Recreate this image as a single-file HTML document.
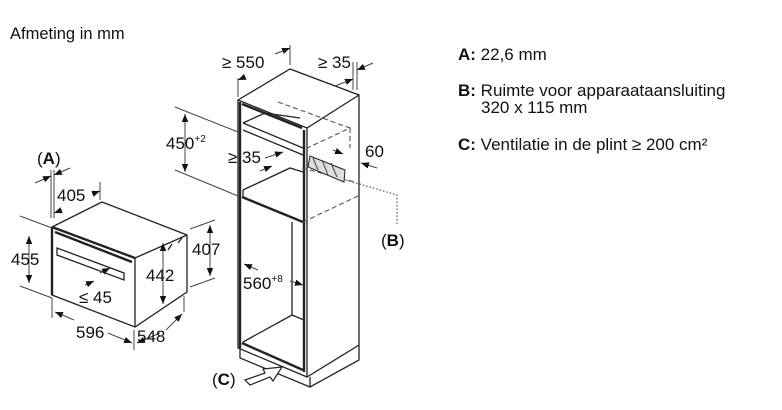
<!DOCTYPE html>
<html><head><meta charset="utf-8"><style>
html,body{margin:0;padding:0;background:#fff;}
svg{display:block;font-family:"Liberation Sans",Arial,sans-serif;}
text{fill:#111;font-size:17px;}
.l{stroke:#222;stroke-width:1.3;fill:none;}
.t{stroke:#222;stroke-width:2.4;fill:none;}
.d{stroke:#555;stroke-width:1.1;fill:none;stroke-dasharray:5,3;}
.e{stroke:#444;stroke-width:1;fill:none;}
</style></head><body>
<svg width="782" height="410" viewBox="0 0 782 410">
<defs><marker id="a" viewBox="0 0 10 10" refX="10" refY="5" markerWidth="8" markerHeight="8" orient="auto-start-reverse"><path d="M0,1 L10,5 L0,9 z" fill="#111"/></marker></defs>
<text x="10" y="39" style="font-size:16.5px">Afmeting in mm</text>
<text x="458" y="60"><tspan font-weight="bold">A:</tspan> 22,6 mm</text>
<text x="458" y="96"><tspan font-weight="bold">B:</tspan> Ruimte voor apparaataansluiting</text>
<text x="481" y="113">320 x 115 mm</text>
<text x="458" y="150"><tspan font-weight="bold">C:</tspan> Ventilatie in de plint ≥ 200 cm²</text>

<!-- OVEN -->
<path class="l" d="M52,227 L102,202 L187,235 L187,292 L135,327 L52,295 Z"/>
<path class="l" d="M135,258 L187,235 M135,258 L135,327"/>
<path class="t" d="M52,227 L135,258 M52,227 L52,295 M55,232 L132,262"/>
<path class="l" d="M57,248 L124,273 L124,280 L57,255 Z"/>
<path class="l" d="M168,250 L172,244 M178,243 L182,238"/>
<!-- oven dims -->
<path class="e" d="M20,216 L52,228 M20,286 L52,298"/>
<line class="e" x1="29" y1="236" x2="29" y2="283" marker-start="url(#a)" marker-end="url(#a)"/>
<text x="11" y="265">455</text>
<path class="e" d="M51,170 L51,218 M54,170 L54,218"/>
<line class="e" x1="35" y1="183" x2="51" y2="176" marker-end="url(#a)"/>
<line class="e" x1="70" y1="168" x2="54" y2="175" marker-end="url(#a)"/>
<text x="37" y="164">(<tspan font-weight="bold">A</tspan>)</text>
<path class="e" d="M100,182 L100,200"/>
<line class="e" x1="62" y1="210" x2="54" y2="213" marker-end="url(#a)"/>
<line class="e" x1="92" y1="194" x2="100" y2="191" marker-end="url(#a)"/>
<text x="57" y="201">405</text>
<text x="146" y="281">442</text>
<line class="e" x1="163" y1="243" x2="163" y2="304" marker-start="url(#a)" marker-end="url(#a)"/>
<path class="e" d="M190,229 L215,220 M190,287 L215,278"/>
<line class="e" x1="210" y1="225" x2="210" y2="276" marker-start="url(#a)" marker-end="url(#a)"/>
<text x="192" y="255">407</text>
<line class="e" x1="100" y1="273" x2="110" y2="268" marker-end="url(#a)"/>
<line class="e" x1="85" y1="285" x2="94" y2="281" marker-end="url(#a)"/>
<text x="79" y="303">≤ 45</text>
<path class="e" d="M52,298 L52,318 M134,330 L134,350 M184,296 L184,312"/>
<line class="e" x1="55" y1="312" x2="74" y2="320" marker-start="url(#a)"/>
<line class="e" x1="108" y1="333" x2="132" y2="343" marker-end="url(#a)"/>
<text x="76" y="338">596</text>
<line class="e" x1="137" y1="343" x2="160" y2="333" marker-start="url(#a)"/>
<line class="e" x1="166" y1="330" x2="182" y2="314" marker-end="url(#a)"/>
<text x="137" y="342">548</text>

<!-- CABINET -->
<path class="l" d="M238,100 L290,69 L359,95 L359,345 L307,377 L238,348 Z"/>
<path class="l" d="M238,100 L307,128 L359,95 M307,128 L307,377"/>
<path class="t" d="M240,102 L240,348 M304,130 L304,372 M242,104 L302,128"/>
<path class="l" d="M243,123 L303,148 M243,130 L303,155 M243,123 L265,113 L300,118"/>
<path class="t" d="M242,197 L303,222"/>
<path class="l" d="M243,190 L290,168 L303,172 M243,190 L243,197"/>
<path class="l" d="M292,222 L292,315 M243,342 L292,315 L304,320"/>
<path class="t" d="M242,343 L303,370"/>
<path class="l" d="M240,348 L240,358 L310,387 L359,360 L359,345 M310,387 L310,377"/>
<path class="d" d="M278,102 L350,128 L303,150 M350,128 L350,148 M302,168 L355,182 M303,222 L358,196"/>
<path d="M310,156 L345,170 L344,182 L308,167 Z" fill="#ddd" stroke="#222" stroke-width="1"/>
<path class="e" d="M313,158 L318,170 M322,160 L328,175 M331,163 L337,177"/>
<path d="M346,180 L397,195 L397,225" fill="none" stroke="#333" stroke-dasharray="1.5,2"/>
<text x="381" y="246">(<tspan font-weight="bold">B</tspan>)</text>
<!-- cabinet dims -->
<path class="e" d="M238,78 L238,97 M290,45 L290,65 M353,62 L353,90 M357,62 L357,90"/>
<line class="e" x1="245" y1="77" x2="238" y2="80" marker-end="url(#a)"/>
<line class="e" x1="275" y1="54" x2="290" y2="48" marker-end="url(#a)"/>
<text x="222" y="68">≥ 550</text>
<text x="318" y="68">≥ 35</text>
<line class="e" x1="335" y1="86" x2="353" y2="79" marker-end="url(#a)"/>
<line class="e" x1="373" y1="63" x2="357" y2="70" marker-end="url(#a)"/>
<path class="e" d="M175,107 L238,132 M175,170 L238,196"/>
<line class="e" x1="185" y1="114" x2="185" y2="172" marker-start="url(#a)" marker-end="url(#a)"/>
<text x="166" y="149">450<tspan font-size="10" dy="-7">+2</tspan></text>
<text x="228" y="163">≥ 35</text>
<line class="e" x1="265" y1="158" x2="283" y2="152" marker-end="url(#a)"/>
<line class="e" x1="260" y1="171" x2="272" y2="166" marker-end="url(#a)"/>
<line class="e" x1="333" y1="150" x2="343" y2="154" marker-end="url(#a)"/>
<line class="e" x1="377" y1="168" x2="361" y2="163" marker-end="url(#a)"/>
<text x="365" y="157">60</text>
<line class="e" x1="258" y1="270" x2="244" y2="264" marker-end="url(#a)"/>
<line class="e" x1="290" y1="281" x2="303" y2="285" marker-end="url(#a)"/>
<text x="243" y="289">560<tspan font-size="10" dy="-7">+8</tspan></text>
<path d="M245,380 L265,373 L263,369 L282,367 L273,381 L270,377 L250,385 Z" fill="#fff" stroke="#222" stroke-width="1.2"/>
<text x="212" y="385">(<tspan font-weight="bold">C</tspan>)</text>
</svg>
</body></html>
